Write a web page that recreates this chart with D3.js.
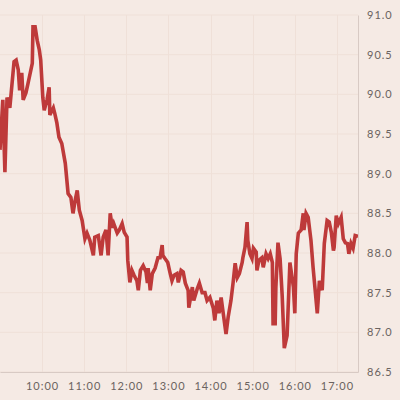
<!DOCTYPE html>
<html>
<head>
<meta charset="utf-8">
<script src="https://cdn.jsdelivr.net/npm/d3@7"></script>
<style>
    body { margin: 0; background: #f5eae4; }
    #chart text { font-family: Lato, "Open Sans", sans-serif; fill: #6b6360; letter-spacing: 1px; }
</style>
</head>
<body>
<div id="chart"></div>
<script>
// intraday price readings (time of day, price)
const times = ['09:00','09:04','09:07','09:10','09:14','09:20','09:23','09:26','09:28','09:31',
    '09:33','09:37','09:40','09:46','09:47','09:50','09:53','09:56','09:58','10:01',
    '10:03','10:07','10:10','10:11','10:16','10:18','10:21','10:24','10:28','10:33',
    '10:37','10:41','10:44','10:47','10:50','10:53','10:57','11:01','11:04','11:08',
    '11:13','11:15','11:20','11:24','11:27','11:31','11:34','11:37','11:40','11:42',
    '11:47','11:50','11:54','11:57','12:01','12:02','12:05','12:08','12:11','12:15',
    '12:17','12:20','12:24','12:28','12:30','12:31','12:34','12:37','12:41','12:45',
    '12:48','12:51','12:52','12:55','12:59','13:02','13:05','13:08','13:12','13:14',
    '13:18','13:21','13:24','13:28','13:29','13:34','13:36','13:41','13:44','13:48',
    '13:52','13:55','13:59','14:04','14:06','14:09','14:12','14:15','14:18','14:22',
    '14:25','14:29','14:32','14:35','14:38','14:41','14:45','14:46','14:49','14:52',
    '14:53','14:56','14:59','15:01','15:05','15:06','15:09','15:13','15:15','15:19',
    '15:22','15:25','15:28','15:29','15:32','15:33','15:36','15:39','15:42','15:45',
    '15:49','15:53','15:58','16:00','16:02','16:05','16:09','16:12','16:13','16:16',
    '16:19','16:23','16:26','16:29','16:32','16:35','16:39','16:42','16:46','16:49',
    '16:52','16:55','16:56','16:59','17:02','17:06','17:09','17:12','17:15','17:17',
    '17:20','17:23','17:26','17:30'];

const prices = [89.30,89.93,89.02,89.96,89.83,90.41,90.43,90.31,90.05,90.27,
    89.93,90.02,90.14,90.39,90.85,90.85,90.68,90.56,90.43,89.96,
    89.80,89.93,90.09,89.74,89.83,89.76,89.64,89.46,89.38,89.13,
    88.75,88.70,88.50,88.66,88.79,88.54,88.41,88.18,88.25,88.16,
    87.97,88.20,88.22,87.97,88.20,88.29,87.97,88.50,88.32,88.37,
    88.25,88.29,88.37,88.26,88.20,87.91,87.63,87.78,87.72,87.65,
    87.53,87.78,87.84,87.76,87.62,87.81,87.53,87.74,87.81,87.94,
    87.94,88.10,87.97,87.93,87.88,87.76,87.65,87.72,87.74,87.63,
    87.78,87.76,87.62,87.53,87.31,87.57,87.40,87.55,87.62,87.50,
    87.50,87.40,87.44,87.30,87.15,87.40,87.24,87.44,87.24,86.98,
    87.19,87.40,87.62,87.87,87.69,87.74,87.88,87.94,88.07,88.39,
    88.16,87.99,87.93,88.06,88.01,87.78,87.91,87.94,87.82,87.99,
    87.93,87.99,87.88,87.11,87.11,87.57,88.13,87.93,87.46,86.80,
    86.96,87.88,87.57,87.24,87.99,88.25,88.29,88.50,88.29,88.50,
    88.45,88.16,87.82,87.53,87.24,87.65,87.53,88.12,88.41,88.39,
    88.26,88.03,88.07,88.47,88.37,88.45,88.18,88.13,88.12,87.99,
    88.12,88.06,88.22,88.21];

const yTicks = [86.5, 87.0, 87.5, 88.0, 88.5, 89.0, 89.5, 90.0, 90.5, 91.0];
const xTicks = ['10:00','11:00','12:00','13:00','14:00','15:00','16:00','17:00'];
const xRange = ['09:00', '17:30'];

const parseTime = d3.timeParse('%H:%M');
const data = times.map((t, i) => ({ time: parseTime(t), price: prices[i] }));

const margin = { top: 15, right: 42, bottom: 28, left: 0 };
const width = 400 - margin.left - margin.right;
const height = 400 - margin.top - margin.bottom;

const x = d3.scaleTime()
    .domain(xRange.map(parseTime))
    .range([0, width]);

const y = d3.scaleLinear()
    .domain([86.5, 91.0])
    .range([height, 0]);

const svg = d3.select('#chart').append('svg')
    .attr('width', 400)
    .attr('height', 400)
    .style('background', '#f5eae4')
    .append('g')
    .attr('transform', `translate(${margin.left},${margin.top})`);

// Grid lines
svg.append('g')
    .selectAll('line.h')
    .data(yTicks)
    .enter().append('line')
    .attr('x1', 0)
    .attr('x2', width)
    .attr('y1', d => y(d))
    .attr('y2', d => y(d))
    .attr('stroke', '#efe0d8')
    .attr('stroke-width', 1);

svg.append('g')
    .selectAll('line.v')
    .data(xTicks.map(parseTime))
    .enter().append('line')
    .attr('x1', d => Math.round(x(d)) + 0.5)
    .attr('x2', d => Math.round(x(d)) + 0.5)
    .attr('y1', 0)
    .attr('y2', height)
    .attr('stroke', '#efe0d8')
    .attr('stroke-width', 1);

// Price line
svg.append('clipPath').attr('id', 'clip')
    .append('rect').attr('width', width).attr('height', height);

const line = d3.line()
    .x(d => x(d.time))
    .y(d => y(d.price));

svg.append('path')
    .datum(data)
    .attr('clip-path', 'url(#clip)')
    .attr('fill', 'none')
    .attr('stroke', '#be3a3a')
    .attr('stroke-width', 3.6)
    .attr('stroke-linejoin', 'miter')
    .attr('d', line);

// Right axis
const yAxis = svg.append('g')
    .attr('transform', `translate(${width},0)`)
    .call(d3.axisRight(y).tickValues(yTicks).tickFormat(d3.format('.1f')).tickSize(0).tickPadding(9));
yAxis.select('.domain').attr('stroke', '#d8cac4');
yAxis.selectAll('text').style('font-size', '11px');

// Bottom axis
const xAxis = svg.append('g')
    .attr('transform', `translate(0,${height})`)
    .call(d3.axisBottom(x).tickValues(xTicks.map(parseTime)).tickFormat(d3.timeFormat('%H:%M')).tickSize(0).tickPadding(10));
xAxis.select('.domain').attr('stroke', '#d8cac4');
xAxis.selectAll('text').style('font-size', '11px');
</script>
</body>
</html>
